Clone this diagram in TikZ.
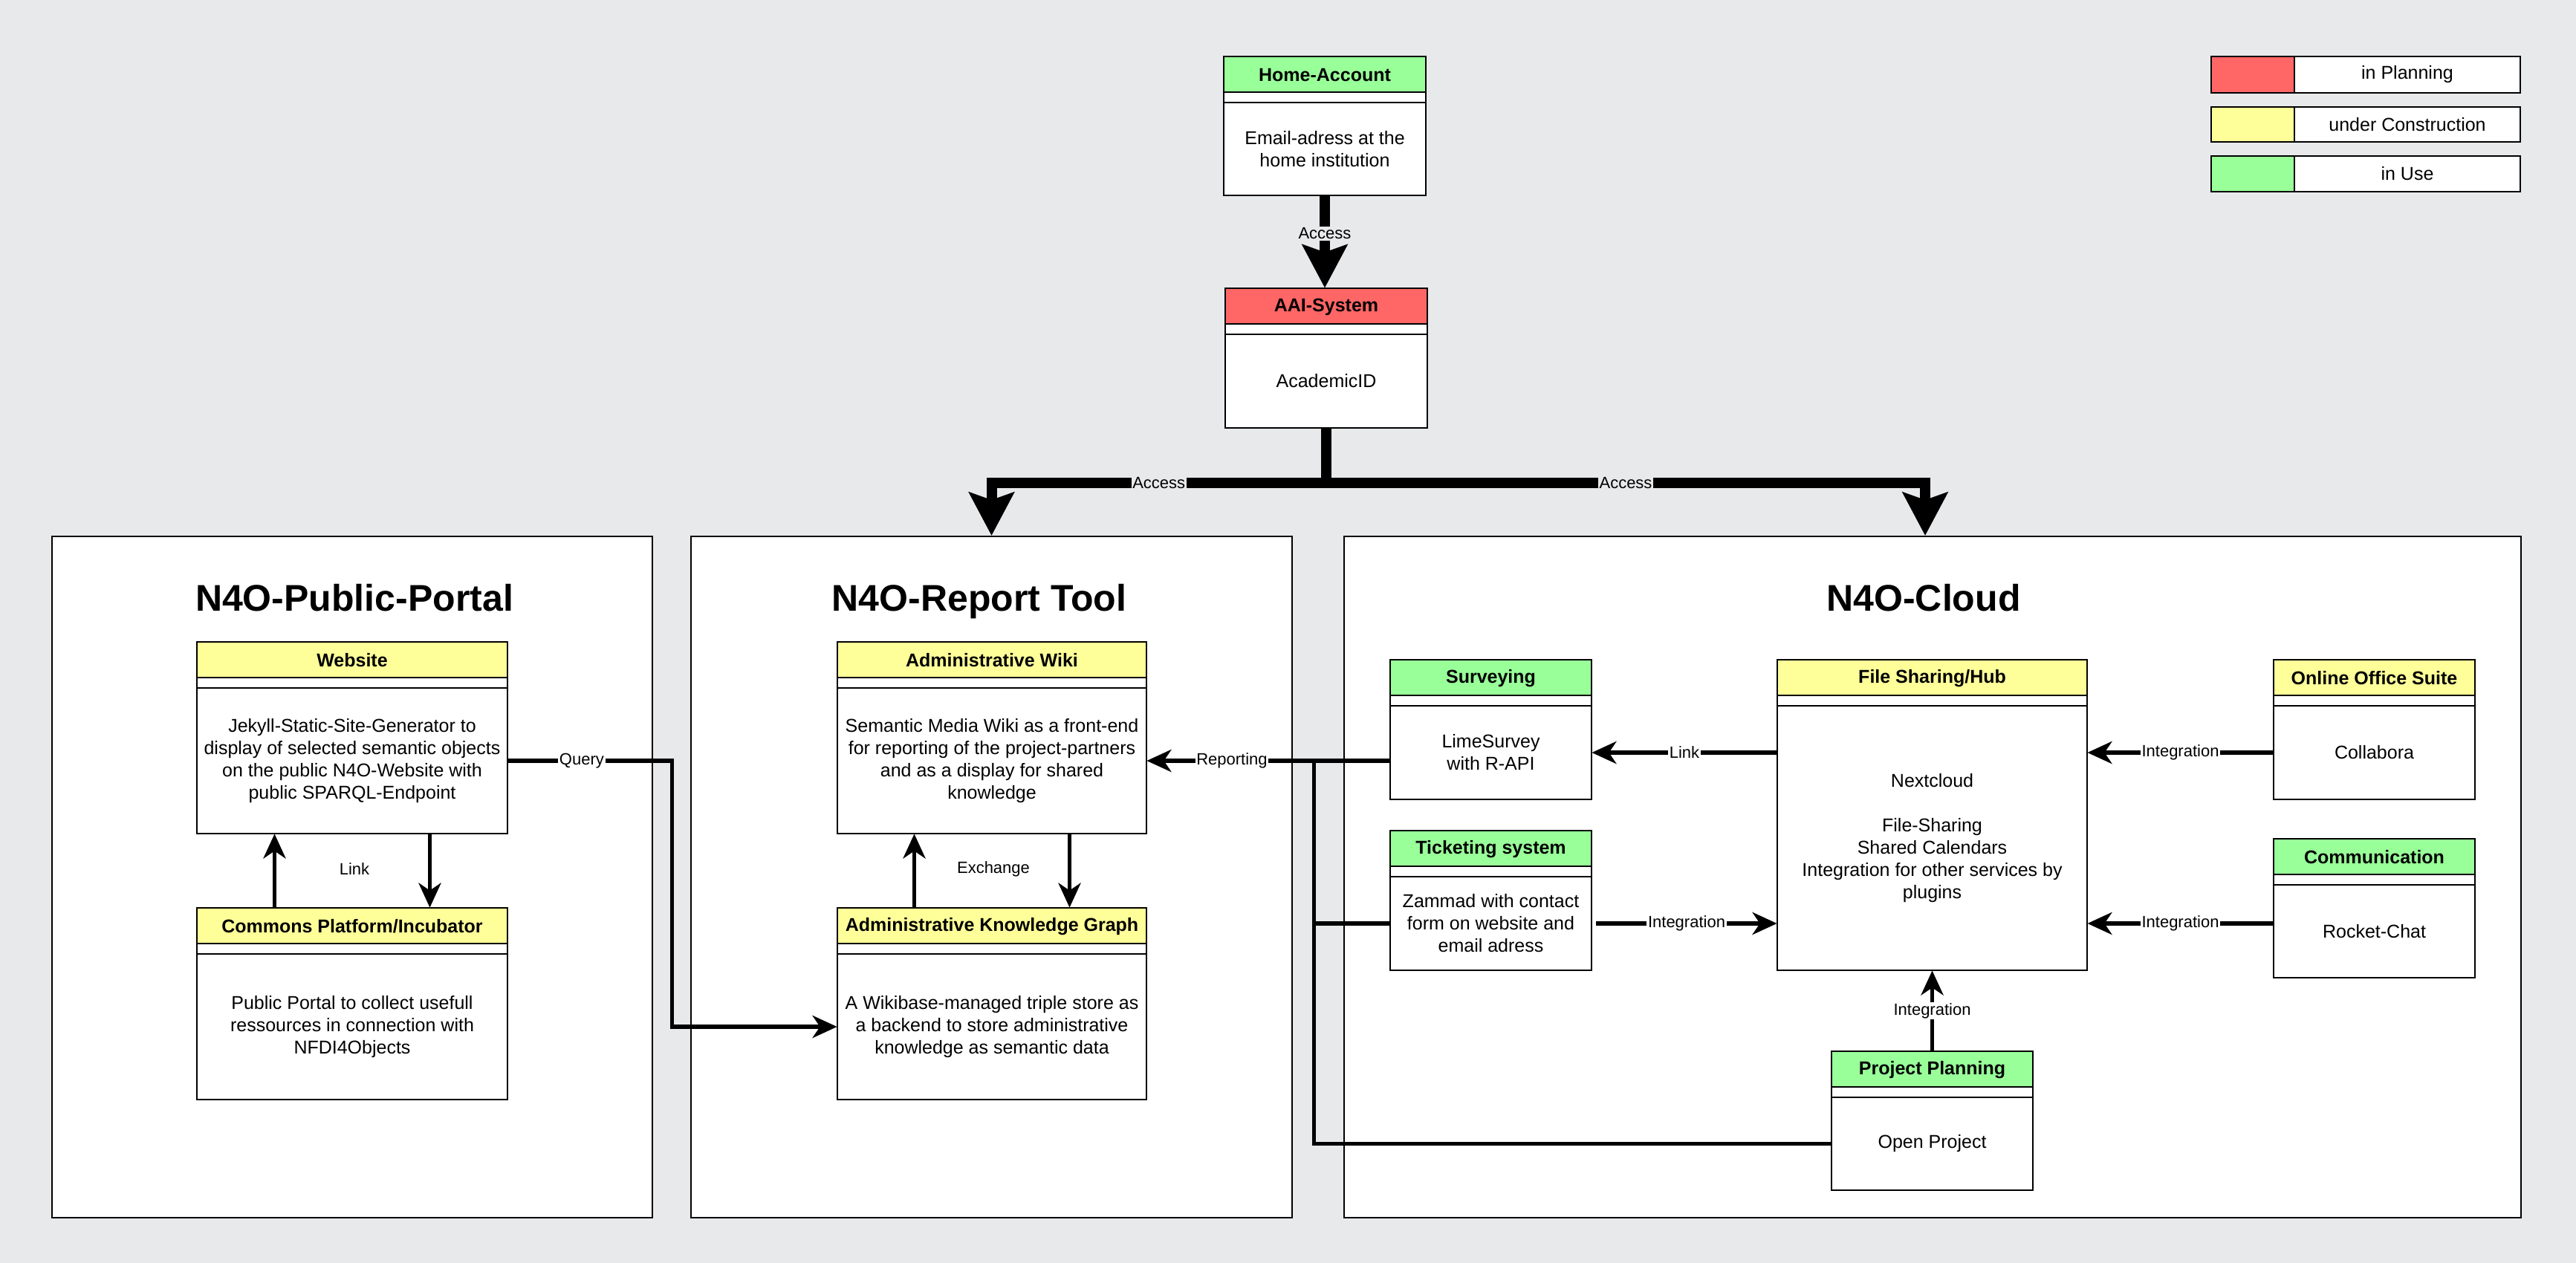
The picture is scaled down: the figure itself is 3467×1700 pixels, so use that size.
\documentclass[tikz,border=0pt]{standalone}
\usepackage{fontspec}
\setmainfont{Liberation Sans}
\usetikzlibrary{arrows.meta,fit,calc}
\definecolor{bg}{RGB}{232,233,235}
\definecolor{cgreen}{RGB}{153,255,153}
\definecolor{cyellow}{RGB}{255,255,153}
\definecolor{cred}{RGB}{255,102,102}
\tikzset{
 boxfill/.style={fill=white, inner sep=0pt, draw=none},
 thinline/.style={draw=black, line width=1.2pt},
 hdr/.style={font=\fontsize{12.5pt}{15pt}\selectfont\bfseries, inner sep=0pt},
 bodytxt/.style={font=\fontsize{12.5pt}{15pt}\selectfont, align=center, inner sep=0pt},
 lbl/.style={font=\fontsize{11pt}{13pt}\selectfont, fill=white, inner sep=0.8pt},
 glbl/.style={lbl, fill=bg},
 freelbl/.style={font=\fontsize{11pt}{13pt}\selectfont, inner sep=0.8pt},
 conn/.style={line width=2.8pt, -{Stealth[length=16.5pt,width=15pt,inset=5pt]}},
 plainconn/.style={line width=2.8pt},
 accessconn/.style={line width=7pt, -{Stealth[length=29pt,width=30pt,inset=5pt]}},
 container/.style={draw=black, line width=1pt, fill=white, inner sep=0pt},
 ttl/.style={font=\fontsize{25pt}{30pt}\selectfont\bfseries, anchor=base, inner sep=0pt},
}
\newcommand\ubox[8]{%
  \node[boxfill, fit={(#2,#3) (#4,#5)}] (#1) {};
  \fill[#6] (#2,#3) rectangle (#4,#3+48);
  \draw[thinline] (#2,#3+48) -- (#4,#3+48) (#2,#3+62) -- (#4,#3+62);
  \draw[thinline] (#2,#3) rectangle (#4,#5);
  \node[hdr] (#1-t) at ({(#2+#4)/2},{#3+25}) {#7};
  \node[bodytxt] (#1-b) at ({(#2+#4)/2},{(#3+62+#5)/2}) {#8};
}
\newcommand\legrow[5]{%
  \fill[#4] (2976,#2) rectangle (3088,#3);
  \node[boxfill, fit={(3088,#2) (3392,#3)}] (#1) {};
  \draw[thinline] (2976,#2) rectangle (3392,#3);
  \draw[thinline] (3088,#2) -- (3088,#3);
  \node[bodytxt] (#1-t) at ({(3088+3392)/2},{(#2+#3)/2}) {#5};
}
\begin{document}
\begin{tikzpicture}[x=0.5pt,y=-0.5pt]
\fill[bg] (0,0) rectangle (3467,1700);
\useasboundingbox (0,0) rectangle (3467,1700);

% containers
\node[container, fit={(70,722) (878,1639)}] (pub) {};
\node[container, fit={(930,722) (1739,1639)}] (rt) {};
\node[container, fit={(1809,722) (3393,1639)}] (cloud) {};
\node[ttl] (pubt) at (477,822) {N4O-Public-Portal};
\node[ttl] (rtt) at (1318,822) {N4O-Report Tool};
\node[ttl] (cloudt) at (2589,822) {N4O-Cloud};

% boxes
\ubox{home}{1647}{76}{1919}{263}{cgreen}{Home-Account}{Email-adress at the\\home institution}
\ubox{aai}{1649}{388}{1921}{576}{cred}{AAI-System}{AcademicID}
\ubox{web}{265}{864}{683}{1122}{cyellow}{Website}{Jekyll-Static-Site-Generator to\\display of selected semantic objects\\on the public N4O-Website with\\public SPARQL-Endpoint}
\ubox{com}{265}{1222}{683}{1480}{cyellow}{Commons Platform/Incubator}{Public Portal to collect usefull\\ressources in connection with\\NFDI4Objects}
\ubox{wiki}{1127}{864}{1543}{1122}{cyellow}{Administrative Wiki}{Semantic Media Wiki as a front-end\\for reporting of the project-partners\\and as a display for shared\\knowledge}
\ubox{akg}{1127}{1222}{1543}{1480}{cyellow}{Administrative Knowledge Graph}{A Wikibase-managed triple store as\\a backend to store administrative\\knowledge as semantic data}
\ubox{surv}{1871}{888}{2142}{1076}{cgreen}{Surveying}{LimeSurvey\\with R-API}
\ubox{tick}{1871}{1118}{2142}{1306}{cgreen}{Ticketing system}{Zammad with contact\\form on website and\\email adress}
\ubox{hub}{2392}{888}{2809}{1306}{cyellow}{File Sharing/Hub}{Nextcloud\\[15pt]File-Sharing\\Shared Calendars\\Integration for other services by\\plugins}
\ubox{pp}{2465}{1415}{2736}{1602}{cgreen}{Project Planning}{Open Project}
\ubox{oos}{3060}{888}{3331}{1076}{cyellow}{Online Office Suite}{Collabora}
\ubox{comm}{3060}{1129}{3331}{1316}{cgreen}{Communication}{Rocket-Chat}

% legend
\legrow{leg1}{76}{125}{cred}{in Planning}
\legrow{leg2}{144}{191}{cyellow}{under Construction}
\legrow{leg3}{210}{258}{cgreen}{in Use}

% access connectors
\coordinate (bus) at (1785,649.7);
\draw[accessconn] (home.south) -- node[glbl, pos=0.41] (acc0) {Access} (home.south |- aai.north);
\draw[accessconn] (aai.south) -- (bus) -| node[glbl, pos=0.25] (acc1) {Access} (rt.north);
\draw[accessconn] (bus) -| node[glbl, pos=0.25] (acc2) {Access} ([xshift=-5pt]cloud.north);

% public portal
\coordinate (qb) at (904.6,1024);
\draw[conn] (web-b.center -| web.east) -- node[lbl, pos=0.45] (qlbl) {Query} (qb) |- (akg-b.center -| akg.west);
\draw[conn] ([xshift=-52.25pt]com.north) -- ([xshift=-52.25pt]web.south);
\draw[conn] ([xshift=52.25pt]web.south) -- ([xshift=52.25pt]com.north);
\node[freelbl] (plink) at (477,1170) {Link};

% report tool
\draw[conn] ([xshift=-52.25pt]akg.north) -- ([xshift=-52.25pt]wiki.south);
\draw[conn] ([xshift=52.25pt]wiki.south) -- ([xshift=52.25pt]akg.north);
\node[freelbl] (exlbl) at (1337,1170) {Exchange};

% reporting
\coordinate (rb) at (1768.5,1024);
\draw[plainconn] (tick-b.center -| tick.west) -| (rb);
\draw[plainconn] (pp-b.center -| pp.west) -| (rb);
\draw[conn] (surv.west |- wiki-b.center) -- node[lbl, pos=0.65] (rep) {Reporting} (wiki-b.center -| wiki.east);

% cloud
\draw[conn] (surv-b.center -| hub.west) -- node[lbl] (hlink) {Link} (surv-b.center -| surv.east);
\draw[conn] ($(tick-b.center -| tick.east)+(6,0)$) -- node[lbl] (tint) {Integration} (tick-b.center -| hub.west);
\draw[conn] (pp.north) -- node[lbl] (pint) {Integration} (pp.north |- hub.south);
\draw[conn] (oos-b.center -| oos.west) -- node[lbl] (oint) {Integration} (oos-b.center -| hub.east);
\draw[conn] (tick-b.center -| comm.west) -- node[lbl] (cint) {Integration} (tick-b.center -| hub.east);
\end{tikzpicture}
\end{document}
